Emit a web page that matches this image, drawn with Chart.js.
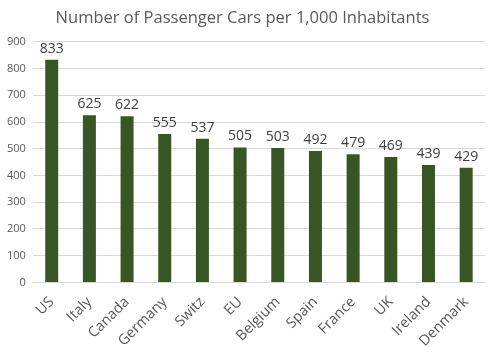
<!DOCTYPE html>
<html><head><meta charset="utf-8">
<script src="https://cdn.jsdelivr.net/npm/chart.js@4"></script>
<style>html,body{margin:0;padding:0;background:#fff}#wrap{width:494px;height:353px}</style>
</head><body><div id="wrap"><canvas id="c"></canvas></div>
<script>
const categories = ["US","Italy","Canada","Germany","Switz","EU","Belgium","Spain","France","UK","Ireland","Denmark"];
const carsPer1000 = [833,625,622,555,537,505,503,492,479,469,439,429];
const yTicks = [0,100,200,300,400,500,600,700,800,900];

const labelPlugin = {
  id: 'vals',
  afterDatasetsDraw(chart) {
    const ctx = chart.ctx;
    const meta = chart.getDatasetMeta(0);
    ctx.save();
    ctx.font = '14px "Open Sans"';
    ctx.fillStyle = '#404040';
    ctx.textAlign = 'center';
    ctx.textBaseline = 'bottom';
    meta.data.forEach((bar, i) => {
      ctx.fillText(String(carsPer1000[i]), bar.x, bar.y - 4);
    });
    ctx.restore();
  }
};

new Chart(document.getElementById('c'), {
  type: 'bar',
  data: { labels: categories, datasets: [{ data: carsPer1000, backgroundColor: '#375623', barPercentage: 0.345, categoryPercentage: 1 }] },
  options: {
    responsive: true, maintainAspectRatio: false, animation: false,
    layout: { padding: { left: 0, right: 9, top: 4, bottom: 0 } },
    plugins: {
      legend: { display: false }, tooltip: { enabled: false },
      title: { display: true, text: 'Number of Passenger Cars per 1,000 Inhabitants', color: '#595959', font: { family: 'Open Sans', size: 16.5, weight: 'normal' }, padding: { top: 4, bottom: 14 } }
    },
    scales: {
      y: { min: 0, max: 900, afterBuildTicks: s => { s.ticks = yTicks.map(v => ({ value: v })); },
           grid: { color: '#d9d9d9', drawTicks: false }, border: { display: false },
           ticks: { color: '#595959', font: { family: 'Open Sans', size: 11 }, padding: 7 } },
      x: { grid: { display: false }, border: { color: '#d9d9d9' },
           ticks: { color: '#595959', font: { family: 'Open Sans', size: 14.5 }, maxRotation: 45, minRotation: 45, padding: 3 } }
    }
  },
  plugins: [labelPlugin]
});
</script></body></html>
